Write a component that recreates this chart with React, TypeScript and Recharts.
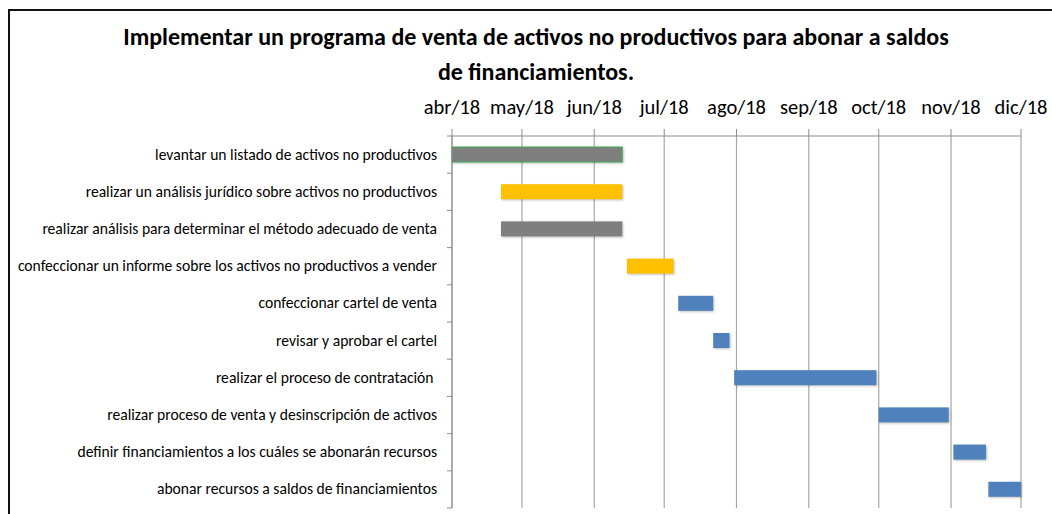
import React from "react";
import { BarChart, Bar, XAxis, YAxis, CartesianGrid, Cell } from "recharts";

// Tareas del cronograma (de arriba hacia abajo)
const tasks = [
  "levantar un listado de activos no productivos",
  "realizar un análisis jurídico sobre activos no productivos",
  "realizar análisis para determinar el método adecuado de venta",
  "confeccionar un informe sobre los activos no productivos a vender",
  "confeccionar cartel de venta",
  "revisar y aprobar el cartel",
  "realizar el proceso de contratación ",
  "realizar proceso de venta y desinscripción de activos",
  "definir financiamientos a los cuáles se abonarán recursos",
  "abonar recursos a saldos de financiamientos",
];

const startDates = [
  "2018-04-01",
  "2018-04-22",
  "2018-04-22",
  "2018-06-15",
  "2018-07-07",
  "2018-07-22",
  "2018-07-31",
  "2018-10-01",
  "2018-11-02",
  "2018-11-17",
];

const endDates = [
  "2018-06-13",
  "2018-06-13",
  "2018-06-13",
  "2018-07-05",
  "2018-07-22",
  "2018-07-29",
  "2018-09-30",
  "2018-10-31",
  "2018-11-16",
  "2018-12-01",
];

const barColors = [
  "#7F7F7F",
  "#FFC000",
  "#7F7F7F",
  "#FFC000",
  "#4F81BD",
  "#4F81BD",
  "#4F81BD",
  "#4F81BD",
  "#4F81BD",
  "#4F81BD",
];

const monthStarts = [
  "2018-04-01",
  "2018-05-01",
  "2018-06-01",
  "2018-07-01",
  "2018-08-01",
  "2018-09-01",
  "2018-10-01",
  "2018-11-01",
  "2018-12-01",
];
const monthLabels = ["abr/18", "may/18", "jun/18", "jul/18", "ago/18", "sep/18", "oct/18", "nov/18", "dic/18"];

const titleLines = [
  "Implementar un programa de venta de activos no productivos para abonar a saldos",
  "de financiamientos.",
];

const ORIGIN = Date.UTC(2018, 3, 1);
const dayOf = (s: string) => {
  const [y, m, d] = s.split("-").map(Number);
  return Math.round((Date.UTC(y, m - 1, d) - ORIGIN) / 86400000);
};

const data = tasks.map((task, i) => ({
  task,
  offset: dayOf(startDates[i]),
  duration: dayOf(endDates[i]) - dayOf(startDates[i]),
}));
const tickDays = monthStarts.map(dayOf);

const FONT = "Carlito, Calibri, Lato, sans-serif";
const AXIS = "#8c8c8c";
const GRID = "#a6a6a6";
const W = 1052;
const H = 514;
const PLOT_TOP = 136;
const PLOT_BOTTOM = 508;
const BAND = (PLOT_BOTTOM - PLOT_TOP) / tasks.length;

const MonthTick = (props: any) => {
  const { x, y, payload } = props;
  const idx = tickDays.indexOf(payload.value);
  return (
    <g>
      <line x1={x} x2={x} y1={y - 7} y2={y} stroke={AXIS} />
      <text x={x} y={y - 22} textAnchor="middle" fontFamily={FONT} fontSize={20.5} fill="#000">
        {monthLabels[idx]}
      </text>
    </g>
  );
};

const TaskTick = (props: any) => {
  const { x, y, payload, index } = props;
  return (
    <g>
      {index === 0 && <line x1={x - 5} x2={x} y1={y - BAND / 2} y2={y - BAND / 2} stroke={AXIS} />}
      <line x1={x - 5} x2={x} y1={y + BAND / 2} y2={y + BAND / 2} stroke={AXIS} />
      <text
        x={x - 15}
        y={y + 5}
        textAnchor="end"
        fontFamily={FONT}
        fontSize={15.6}
        fill="#000"
        style={{ whiteSpace: "pre" }}
      >
        {payload.value}
      </text>
    </g>
  );
};

const TaskBar = (props: any) => {
  const { x, y, width, height, index } = props;
  const first = index === 0;
  return (
    <rect
      x={x}
      y={y}
      width={width}
      height={height}
      fill={barColors[index]}
      stroke={first ? "#3daa52" : "none"}
      strokeWidth={1}
      style={{ filter: "drop-shadow(1px 1.5px 1px rgba(0,0,0,0.25))" }}
    />
  );
};

export default function App() {
  return (
    <div style={{ position: "fixed", left: 0, top: 0, width: W, height: H, overflow: "hidden", background: "#fff" }}>
      <div
        style={{
          position: "absolute",
          left: 8,
          top: 9,
          width: W + 20,
          height: H + 20,
          border: "2px solid #111",
          boxSizing: "border-box",
        }}
      />
      <svg width={W} height={100} style={{ position: "absolute", left: 0, top: 0 }}>
        {titleLines.map((t, i) => (
          <text
            key={i}
            x={536}
            y={45 + i * 35}
            textAnchor="middle"
            fontFamily={FONT}
            fontWeight="bold"
            fontSize={24}
            fill="#000"
          >
            {t}
          </text>
        ))}
      </svg>
      <div style={{ position: "absolute", left: 0, top: 0 }}>
        <BarChart
          width={W}
          height={H}
          data={data}
          layout="vertical"
          margin={{ top: PLOT_TOP - 40, right: 31, bottom: H - PLOT_BOTTOM, left: 12 }}
          barSize={15}
        >
          <CartesianGrid horizontal={false} stroke={GRID} strokeWidth={1.2} />
          <XAxis
            type="number"
            orientation="top"
            domain={[0, tickDays[tickDays.length - 1]]}
            ticks={tickDays}
            interval={0}
            height={40}
            tickSize={0}
            tickMargin={0}
            tickLine={false}
            tick={<MonthTick />}
            axisLine={{ stroke: AXIS }}
          />
          <YAxis
            type="category"
            dataKey="task"
            width={440}
            tickSize={0}
            tickMargin={0}
            tickLine={false}
            tick={<TaskTick />}
            interval={0}
            axisLine={{ stroke: AXIS }}
          />
          <Bar dataKey="offset" stackId="g" fill="transparent" isAnimationActive={false} />
          <Bar dataKey="duration" stackId="g" isAnimationActive={false} shape={<TaskBar />}>
            {data.map((_, i) => (
              <Cell key={i} fill={barColors[i]} />
            ))}
          </Bar>
        </BarChart>
      </div>
    </div>
  );
}
